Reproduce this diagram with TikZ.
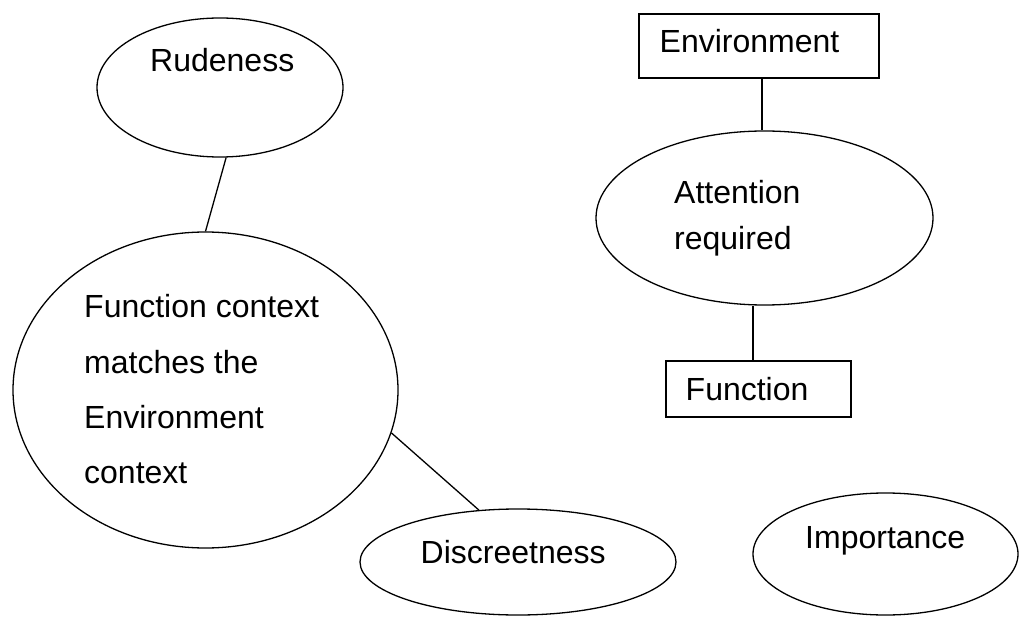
\documentclass[tikz,border=0pt]{standalone}
\usepackage{fontspec}
\setmainfont{Liberation Sans}
\usetikzlibrary{shapes.geometric}
\tikzset{
  oval/.style={draw, ellipse, inner sep=0pt, line width=1.3pt},
  boxnode/.style={draw, rectangle, inner sep=0pt, line width=1.3pt},
  lbl/.style={anchor=base west, inner sep=0pt, font=\fontsize{32}{38}\selectfont},
  conn/.style={line width=1.3pt}
}
\begin{document}
\begin{tikzpicture}[x=1pt,y=-1pt]
\useasboundingbox[fill=white] (0,0) rectangle (1019,617);
% shapes
\node[oval, minimum width=246pt, minimum height=139pt] (rud) at (220,87.5) {};
\node[oval, minimum width=385pt, minimum height=316pt] (big) at (205.5,390) {};
\node[oval, minimum width=337pt, minimum height=174pt] (att) at (764.5,218) {};
\node[oval, minimum width=316pt, minimum height=106pt] (disc) at (518,562) {};
\node[oval, minimum width=265pt, minimum height=122pt] (imp) at (885.5,554) {};
\node[boxnode, minimum width=240pt, minimum height=64pt] (env) at (759,46) {};
\node[boxnode, minimum width=185pt, minimum height=56pt] (fn) at (758.5,389) {};
% texts
\node[lbl] (rudt) at (150,72) {Rudeness};
\node[lbl] (bigt) at (84,318) {\fontsize{32}{55}\selectfont\begin{tabular}[t]{@{}l@{}}Function context\\matches the\\Environment\\context\end{tabular}};
\node[lbl] (envt) at (659.5,53) {Environment};
\node[lbl] (attt) at (674,204) {\fontsize{32}{46}\selectfont\begin{tabular}[t]{@{}l@{}}Attention\\required\end{tabular}};
\node[lbl] (fnt) at (685.5,400) {Function};
\node[lbl] (disct) at (420.5,563) {Discreetness};
\node[lbl] (impt) at (805,548) {Importance};
% connectors
\draw[conn] (rud.-85) -- (big.90);
\draw[conn] (big.-13.7) -- (disc.127.7);
\draw[conn] ([xshift=3pt]env.south) -- ([xshift=3pt]env.south |- att.north);
\draw[conn] ([xshift=-5.5pt]fn.north |- att.south) -- ([xshift=-5.5pt]fn.north);
\end{tikzpicture}
\end{document}
